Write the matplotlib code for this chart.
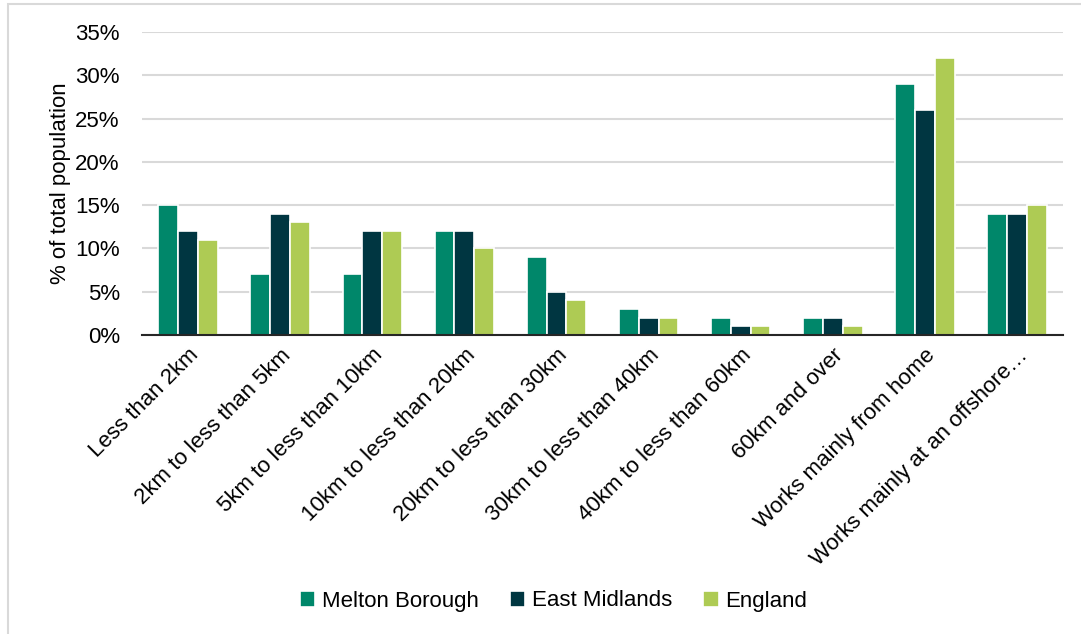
import matplotlib.pyplot as plt
from matplotlib.patches import Rectangle
import numpy as np

plt.rcParams['font.family'] = ['Liberation Sans', 'DejaVu Sans']

categories = ["Less than 2km", "2km to less than 5km", "5km to less than 10km",
              "10km to less than 20km", "20km to less than 30km", "30km to less than 40km",
              "40km to less than 60km", "60km and over", "Works mainly from home",
              "Works mainly at an offshore\u2026"]
melton = [15, 7, 7, 12, 9, 3, 2, 2, 29, 14]
east_midlands = [12, 14, 12, 12, 5, 2, 1, 2, 26, 14]
england = [11, 13, 12, 10, 4, 2, 1, 1, 32, 15]

series = [("Melton Borough", melton, "#00876A"),
          ("East Midlands", east_midlands, "#003641"),
          ("England", england, "#AECB54")]

fs = 16

fig = plt.figure(figsize=(10.81, 6.34), dpi=100)
ax = fig.add_axes([0.1314, 0.4716, 0.852, 0.4779])

# light frame round the whole chart area
fig.patches.append(Rectangle((8 / 1081, -0.05), 1.1, 1 - 4 / 634 + 0.05,
                             transform=fig.transFigure, fill=False,
                             edgecolor="#D9D9D9", linewidth=1.5))

x = np.arange(len(categories))
w = 0.215
for i, (name, vals, col) in enumerate(series):
    ax.bar(x + (i - 1) * w, vals, width=w, color=col, edgecolor="white",
           linewidth=1.2, label=name, zorder=3)

ax.set_xlim(-0.5, len(categories) - 0.5)
ax.set_ylim(0, 35)
ax.set_yticks(range(0, 36, 5))
ax.set_yticklabels([f"{v}%" for v in range(0, 36, 5)], fontsize=fs)
ax.set_xticks(x)
ax.set_xticklabels(categories, rotation=45, ha="right", rotation_mode="anchor", fontsize=fs)
ax.tick_params(axis="y", length=0, pad=16)
ax.tick_params(axis="x", length=0, pad=7)
ax.set_ylabel("% of total population", fontsize=fs, labelpad=3)

ax.grid(axis="y", color="#D9D9D9", linewidth=1.5, zorder=0)
for s in ["top", "right", "left"]:
    ax.spines[s].set_visible(False)
ax.spines["bottom"].set_color("#262626")
ax.spines["bottom"].set_linewidth(1.5)
ax.spines["bottom"].set_zorder(4)

fig.legend(loc="center", bbox_to_anchor=(0.512, 1 - 601 / 634), ncol=3, frameon=False,
           fontsize=fs, handlelength=0.7, handleheight=0.7, handletextpad=0.3,
           columnspacing=1.4)

fig.savefig("out.png", dpi=100)
